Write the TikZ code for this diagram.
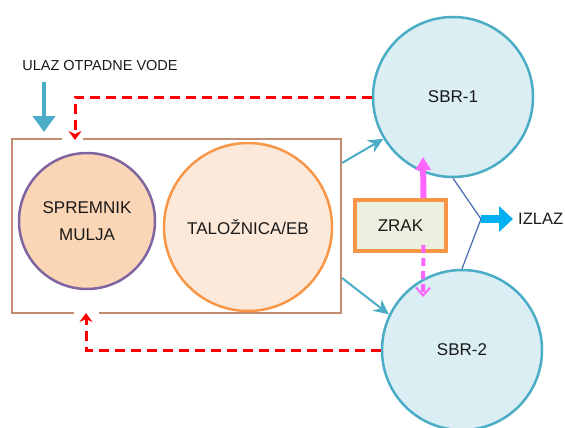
\documentclass[tikz,border=0pt]{standalone}
\usepackage{fontspec}
\setmainfont{Liberation Sans}
\usetikzlibrary{arrows.meta}
\definecolor{ulazplava}{RGB}{75,172,198}
\definecolor{okvir}{RGB}{196,140,112}
\definecolor{ljubicasta}{RGB}{128,100,162}
\definecolor{narancasta}{RGB}{247,150,70}
\definecolor{muljfill}{RGB}{251,214,182}
\definecolor{talfill}{RGB}{253,233,217}
\definecolor{sbrfill}{RGB}{218,238,243}
\definecolor{zrakfill}{RGB}{235,241,222}
\definecolor{magenta1}{RGB}{255,102,255}
\definecolor{tamnoplava}{RGB}{70,105,175}
\definecolor{izlazplava}{RGB}{0,176,240}

\begin{document}
\begin{tikzpicture}[x=1pt,y=-1pt]
    \tikzstyle{tekst} = [font=\fontsize{17}{27}\selectfont,text=black!90]
    \tikzstyle{krug} = [tekst,circle,inner sep=0pt,line width=2.5pt,align=center]
    \tikzstyle{sbr} = [krug,draw=ulazplava,fill=sbrfill,minimum size=160pt]
    \tikzstyle{dovod} = [draw=ulazplava,line width=2pt,-{Stealth[length=15pt,width=14pt]}]
    \tikzstyle{povrat} = [draw=red,line width=3pt,dash pattern=on 10pt off 6pt,-{Stealth[length=9pt,width=13pt,inset=3pt]}]
    \tikzstyle{odvod} = [draw=tamnoplava,line width=1.2pt]
    %%
    \useasboundingbox (0,0) rectangle (565,428);
    %%
    \node [tekst,font=\fontsize{14.5}{17}\selectfont] (ulaz) at (100,66) {ULAZ OTPADNE VODE};
    \coordinate (ulazvrh) at (44,82);
    \coordinate (ulazdno) at (44,132);
    \draw [ulazplava,line width=4pt,-{Triangle[length=16pt,width=22pt]}] (ulazvrh) -- (ulazdno);
    %%
    \node [draw=okvir,line width=2pt,minimum width=329pt,minimum height=174pt] (sustav) at (176.5,226) {};
    \draw [white,line width=4pt] (62,139) -- (83,139); \draw [white,line width=4pt] (74,313) -- (99,313);
    \node [krug,draw=ljubicasta,fill=muljfill,minimum size=136pt] (mulj) at (87,221) {SPREMNIK\\MULJA};
    \node [krug,draw=narancasta,fill=talfill,minimum size=168pt] (taloz) at (248,227) {TALOŽNICA/EB};
    %%
    \node [sbr] (sbr1) at (453,97) {SBR-1};
    \node [sbr] (sbr2) at (462,350) {SBR-2};
    \node [tekst,draw=narancasta,line width=4pt,fill=zrakfill,minimum width=91pt,minimum height=51pt] (zrak) at (400.5,225.5) {ZRAK};
    %%
    \path [dovod] ([yshift=63pt]sustav.east) to (sbr1.211);
    \path [dovod] ([yshift=-52pt]sustav.east) to (sbr2.154);
    %%
    \coordinate (mjeh1) at (423,157);
    \coordinate (mjeh2) at (423,297);
    \draw [magenta1,line width=6pt,-{Triangle[length=13pt,width=15pt]}] ([xshift=23pt]zrak.north) -- (mjeh1);
    \draw [magenta1,line width=4pt,dash pattern=on 8pt off 5pt,-{Straight Barb[length=8pt,width=14pt,line width=2pt]}] ([xshift=23pt,yshift=8pt]zrak.south) -- (mjeh2);
    %%
    \coordinate (spoj) at (481,219);
    \draw [odvod] (sbr1.south) -- (spoj) -- (sbr2.north);
    \node [tekst,font=\fontsize{16.5}{20}\selectfont,anchor=west,inner sep=0pt] (izlaz) at (518,219) {IZLAZ};
    \draw [izlazplava,line width=8pt,-{Triangle[length=14pt,width=25pt]}] (spoj) -- ([xshift=-5pt]izlaz.west);
    %%
    \coordinate (povrat1) at (75,140);
    \coordinate (povrat2) at (86,313);
    \path [povrat] (sbr1.west) -| (povrat1);
    \path [povrat] (sbr2.west) -| (povrat2);
\end{tikzpicture}
\end{document}
